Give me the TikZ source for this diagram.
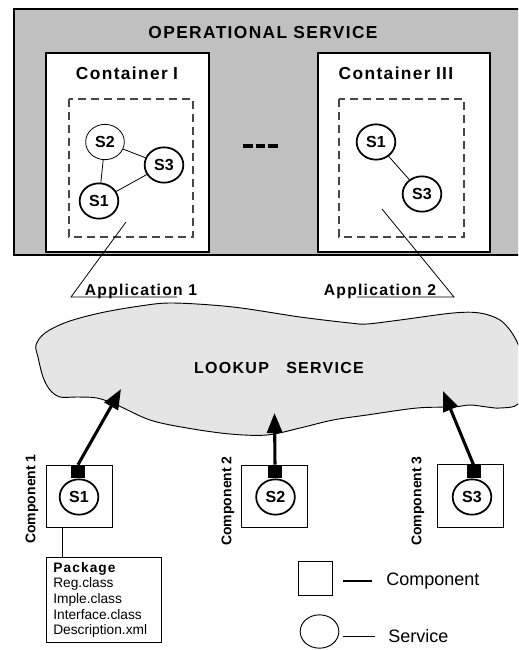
\documentclass[tikz,border=0pt]{standalone}
\usepackage{fontspec}
\setmainfont{Liberation Sans}
\newfontfamily\spaced[LetterSpace=8]{Liberation Sans}
\usetikzlibrary{arrows.meta,shapes.geometric}
\definecolor{opgray}{RGB}{192,192,192}
\definecolor{lookgray}{RGB}{229,229,229}
\definecolor{dashgray}{RGB}{70,70,70}
\tikzset{
	title/.style={inner sep=0pt,font=\spaced\bfseries\fontsize{13}{15}\selectfont},
	svc/.style={draw,ellipse,fill=white,line width=1.3pt,inner sep=0pt,minimum width=29pt,minimum height=26.5pt,font=\bfseries\fontsize{12}{14}\selectfont},
	thinsvc/.style={svc,line width=0.6pt},
	comp/.style={draw,fill=white,line width=0.7pt,minimum width=49.5pt,minimum height=47pt},
	plug/.style={fill=black,inner sep=0pt,minimum width=10.5pt,minimum height=9.75pt},
	complabel/.style={rotate=90,inner sep=0pt,font=\bfseries\fontsize{10.5}{12}\selectfont},
	reg/.style={line width=2.3pt,-{Triangle[length=15pt,width=11.5pt]}},
	legend/.style={inner sep=0pt,anchor=west,font=\fontsize{13.5}{16}\selectfont}
}
\begin{document}
\begin{tikzpicture}[x=0.75pt,y=-0.75pt]
	\clip (0,0) rectangle (518,650);
	% operational service
	\draw[fill=opgray,line width=0.9pt] (14,9) rectangle (540,255);
	\node[title] (opserv) at (263,33) {OPERATIONAL SERVICE};
	\draw[fill=white,line width=0.9pt] (46,53) rectangle (209,252);
	\draw[fill=white,line width=0.9pt] (318,53) rectangle (490,252);
	\node[title] (cont1) at (127,73) {Container\hspace{4pt}I};
	\node[title] (cont3) at (396,73) {Container\hspace{4pt}III};
	\draw[dashgray,line width=0.9pt,dash pattern=on 6pt off 3.75pt] (69,99) rectangle (193,237);
	\draw[dashgray,line width=0.9pt,dash pattern=on 6pt off 3.75pt] (339,99) rectangle (464,237);
	\foreach \i in {0,1,2}
		\draw[line width=2.6pt] (243+12.5*\i,146) -- ++(9.5,0);
	% services in the containers
	\node[thinsvc] (aS2) at (105,142) {S2};
	\node[svc] (aS3) at (164,165) {S3};
	\node[svc] (aS1) at (99,201) {S1};
	\draw[line width=0.6pt] (aS2) -- (aS3);
	\draw[line width=0.6pt] (aS2) -- (aS1);
	\draw[line width=0.6pt] (aS1) -- (aS3);
	\node[svc] (bS1) at (376,142) {S1};
	\node[svc] (bS3) at (422,194) {S3};
	\draw[line width=0.6pt] (bS1) -- (bS3);
	% applications
	\coordinate (app1a) at (126,222);
	\coordinate (app1b) at (71,297);
	\coordinate (app1c) at (177,297);
	\node[title,anchor=base,font=\spaced\bfseries\fontsize{11.75}{14}\selectfont] (app1) at (141,295) {Application 1};
	\draw[line width=0.6pt] (app1a) -- (app1b) -- (app1c);
	\coordinate (app2a) at (382,209);
	\coordinate (app2b) at (454,297);
	\coordinate (app2c) at (357,297);
	\node[title,anchor=base,font=\spaced\bfseries\fontsize{11.75}{14}\selectfont] (app2) at (380,295) {Application 2};
	\draw[line width=0.6pt] (app2a) -- (app2b) -- (app2c);
	% lookup service
	\draw[fill=lookgray,line width=0.7pt] plot[smooth cycle,tension=0.55] coordinates {
		(36,345) (45,333) (67,322) (100,313) (140,306) (173,303) (233,307) (300,317)
		(350,323) (367,324) (400,320) (453,313) (480,313) (500,320) (512,333) (520,350)
		(524,380) (518,404) (500,408) (487,407) (470,405) (453,407) (417,408) (367,415)
		(333,420) (300,428) (267,435) (230,434) (187,428) (150,420) (117,405) (97,398)
		(77,397) (60,397) (50,390) (43,377) (38,357)};
	\node[title,font=\spaced\bfseries\fontsize{12}{14}\selectfont] (lookup) at (279,368) {LOOKUP\hspace{13pt}SERVICE};
	% components
	\node[comp] (comp1) at (79,496.5) {};
	\node[comp] (comp2) at (274.5,496.5) {};
	\node[comp] (comp3) at (470.5,496) {};
	\node[svc] (cS1) at (79,497) {S1};
	\node[svc] (cS2) at (275.5,497) {S2};
	\node[svc] (cS3) at (472,497) {S3};
	\node[plug] (plug1) at (78,471.5) {};
	\node[plug] (plug2) at (275,471.5) {};
	\node[plug] (plug3) at (473.5,471.5) {};
	\node[complabel] (lab1) at (32,499) {Component 1};
	\node[complabel] (lab2) at (228,501) {Component 2};
	\node[complabel] (lab3) at (418,501) {Component 3};
	\coordinate (tip1) at (121,389);
	\coordinate (tip2) at (274.5,413);
	\coordinate (tip3) at (443,391);
	\draw[reg] (plug1.north) -- (tip1);
	\draw[reg] (plug2.north) -- (tip2);
	\draw[reg] (plug3.north) -- (tip3);
	% package
	\node[draw,line width=0.7pt,anchor=north west,minimum width=86.25pt,minimum height=63.75pt,
		inner xsep=5pt,align=left,text width=76pt,font=\fontsize{10.3}{11.8}\selectfont]
		(pkg) at (46,557) {{\spaced\bfseries Package}\\Reg.class\\Imple.class\\Interface.class\\Description.xml};
	\draw[line width=0.6pt] ([xshift=12.75pt]comp1.south west) -- ([xshift=12.75pt]comp1.south west |- pkg.north);
	% legend
	\node[draw,line width=0.7pt,minimum width=26pt,minimum height=25.5pt] (legcomp) at (315.5,578) {};
	\node[legend] (legcomptext) at (386,581) {Component};
	\draw[line width=0.8pt] (343,581) -- (legcomptext.west -| 372,0);
	\node[draw,ellipse,line width=0.7pt,minimum width=29pt,minimum height=25pt] (legsvc) at (319.5,631.5) {};
	\node[legend] (legsvctext) at (388,636) {Service};
	\draw[line width=0.6pt] (343,636) -- (legsvctext.west -| 375,0);
\end{tikzpicture}
\end{document}
